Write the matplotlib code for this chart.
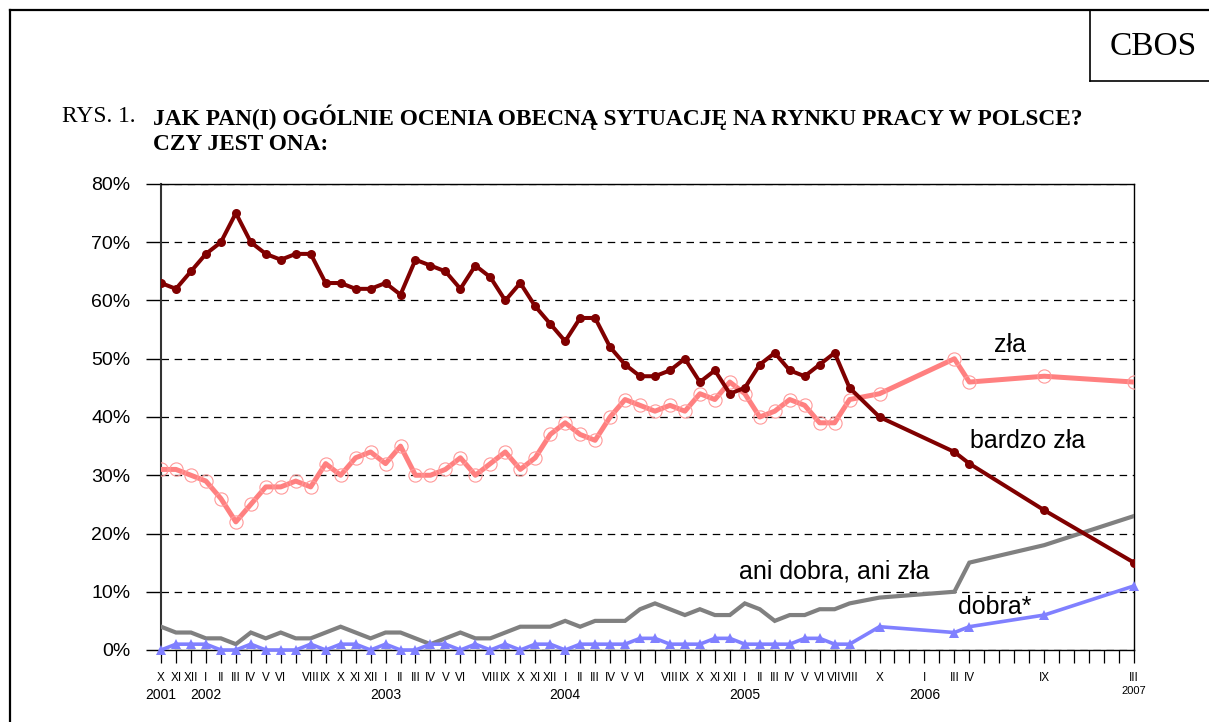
import numpy as np
import matplotlib
matplotlib.use('Agg')
import matplotlib.pyplot as plt
from matplotlib.lines import Line2D
from matplotlib.ticker import FuncFormatter
import matplotlib.transforms as mtrans

nan = np.nan

# ---- data ----
month_labels = ['X', 'XI', 'XII',
                'I', 'II', 'III', 'IV', 'V', 'VI', '', 'VIII', 'IX', 'X', 'XI', 'XII',
                'I', 'II', 'III', 'IV', 'V', 'VI', '', 'VIII', 'IX', 'X', 'XI', 'XII',
                'I', 'II', 'III', 'IV', 'V', 'VI', '', 'VIII', 'IX', 'X', 'XI', 'XII',
                'I', 'II', 'III', 'IV', 'V', 'VI', 'VII', 'VIII', '', 'X', '', '',
                'I', '', 'III', 'IV', '', '', '', '', 'IX', '', '', '',
                '', '', 'III']
year_labels = ['2001', '2002', '2003', '2004', '2005', '2006']
year_index = [0, 3, 15, 27, 39, 51]
last_year_label = '2007'

bardzo_zla = [63, 62, 65, 68, 70, 75, 70, 68, 67, 68, 68, 63, 63, 62, 62, 63, 61, 67, 66, 65, 62, 66, 64,
              60, 63, 59, 56, 53, 57, 57, 52, 49, 47, 47, 48, 50, 46, 48, 44, 45, 49, 51, 48, 47, 49, 51, 45,
              nan, 40, nan, nan, nan, nan, 34, 32, nan, nan, nan, nan, 24, nan, nan, nan, nan, nan, 15]
zla = [31, 31, 30, 29, 26, 22, 25, 28, 28, 29, 28, 32, 30, 33, 34, 32, 35, 30, 30, 31, 33, 30, 32,
       34, 31, 33, 37, 39, 37, 36, 40, 43, 42, 41, 42, 41, 44, 43, 46, 44, 40, 41, 43, 42, 39, 39, 43,
       nan, 44, nan, nan, nan, nan, 50, 46, nan, nan, nan, nan, 47, nan, nan, nan, nan, nan, 46]
ani = [4, 3, 3, 2, 2, 1, 3, 2, 3, 2, 2, 3, 4, 3, 2, 3, 3, 2, 1, 2, 3, 2, 2, 3, 4, 4,
       4, 5, 4, 5, 5, 5, 7, 8, 7, 6, 7, 6, 6, 8, 7, 5, 6, 6, 7, 7, 8,
       nan, 9, nan, nan, nan, nan, 10, 15, nan, nan, nan, nan, 18, nan, nan, nan, nan, nan, 23]
dobra = [0, 1, 1, 1, 0, 0, 1, 0, 0, 0, 1, 0, 1, 1, 0, 1, 0, 0, 1, 1, 0, 1, 0, 1, 0, 1,
         1, 0, 1, 1, 1, 1, 2, 2, 1, 1, 1, 2, 2, 1, 1, 1, 1, 2, 2, 1, 1,
         nan, 4, nan, nan, nan, nan, 3, 4, nan, nan, nan, nan, 6, nan, nan, nan, nan, nan, 11]

series_names = ['zła', 'bardzo zła', 'ani dobra, ani zła', 'dobra*']

W, H = 1209, 722
fig = plt.figure(figsize=(W / 100, H / 100), dpi=100)
fig.patch.set_facecolor('white')

ax_left, ax_right, ax_top, ax_bottom = 161, 1134, 184, 650
ax = fig.add_axes([ax_left / W, 1 - ax_bottom / H, (ax_right - ax_left) / W, (ax_bottom - ax_top) / H])

x = np.arange(len(month_labels))


def plot_series(vals, **kw):
    v = np.array(vals, dtype=float)
    m = ~np.isnan(v)
    ax.plot(x[m], v[m], **kw)


plot_series(ani, color='#808080', lw=3.0, solid_joinstyle='miter', zorder=3)
plot_series(dobra, color='#8080FF', lw=2.6, marker='^', markersize=7.5,
            markeredgewidth=0, zorder=4, clip_on=False)
plot_series(zla, color='#FF8080', lw=3.6, marker='o', markersize=9.5,
            markerfacecolor='none', markeredgecolor='#FF9999', markeredgewidth=0.8, zorder=5)
plot_series(bardzo_zla, color='#800000', lw=2.9, marker='o', markersize=6.5,
            markeredgewidth=0, zorder=6)

ax.set_xlim(0, len(month_labels) - 1)
ax.set_ylim(0, 80)
ax.set_yticks(range(0, 81, 10))
ax.yaxis.set_major_formatter(FuncFormatter(lambda v, p: f'{int(v)}%'))
ax.set_xticks(x)
ax.set_xticklabels(month_labels, fontsize=8.5, family='Liberation Sans')
for lab in ax.get_yticklabels():
    lab.set_family('Liberation Sans')
ax.tick_params(axis='y', direction='out', length=11, width=1.0, pad=11, labelsize=14)
ax.tick_params(axis='x', direction='out', length=9.5, width=0.9, pad=6)
ax.yaxis.grid(True, color='black', lw=0.9, linestyle=(0, (6, 4.5)))
ax.set_axisbelow(True)
for s in ax.spines.values():
    s.set_color('black')
    s.set_linewidth(1.0)
ax.spines['left'].set_linewidth(1.5)
ax.spines['left'].set_color('#333333')

# year labels
tr = mtrans.blended_transform_factory(ax.transData, ax.transAxes)
for yl, yi in zip(year_labels, year_index):
    ax.text(yi, (ax_bottom - 695) / (ax_bottom - ax_top), yl, transform=tr, ha='center', va='center',
            fontsize=10, family='Liberation Sans')
ax.text(len(month_labels) - 1, (ax_bottom - 691) / (ax_bottom - ax_top), last_year_label, transform=tr,
        ha='center', va='center', fontsize=8, family='Liberation Sans')

# series labels
ax.text(56.7, 52.4, series_names[0], fontsize=18, ha='center', va='center', family='Liberation Sans')
ax.text(57.9, 35.9, series_names[1], fontsize=18, ha='center', va='center', family='Liberation Sans')
ax.text(45.0, 13.4, series_names[2], fontsize=18, ha='center', va='center', family='Liberation Sans')
ax.text(55.7, 7.4, series_names[3], fontsize=18, ha='center', va='center', family='Liberation Sans')

# frame
lw_frame = 1.6
fig.add_artist(Line2D([10 / W, 1], [1 - 10 / H, 1 - 10 / H], transform=fig.transFigure, color='black', lw=lw_frame))
fig.add_artist(Line2D([10 / W, 10 / W], [1 - 10 / H, 0], transform=fig.transFigure, color='black', lw=lw_frame))
fig.add_artist(Line2D([1090 / W, 1090 / W], [1 - 10 / H, 1 - 81 / H], transform=fig.transFigure, color='black', lw=1.2))
fig.add_artist(Line2D([1090 / W, 1], [1 - 81 / H, 1 - 81 / H], transform=fig.transFigure, color='black', lw=1.2))
fig.text(1153 / W, 1 - 47 / H, 'CBOS', ha='center', va='center', fontsize=24, family='Liberation Serif')

# title
t1 = fig.text(62 / W, 1 - 117 / H, 'RYS. 1.', ha='left', va='center', fontsize=14, family='Liberation Serif')
t2 = fig.text(153 / W, 1 - 117 / H, 'JAK PAN(I) OGÓLNIE OCENIA OBECNĄ SYTUACJĘ NA RYNKU PRACY W POLSCE?',
              ha='left', va='center', fontsize=14, family='Liberation Serif', fontweight='bold')
t3 = fig.text(153 / W, 1 - 145 / H, 'CZY JEST ONA:', ha='left', va='center', fontsize=14,
              family='Liberation Serif', fontweight='bold')
fig.canvas.draw()
r = fig.canvas.get_renderer()
w2 = t2.get_window_extent(r).width
fs = 14 * (1085 - 153) / w2
for t in (t1, t2, t3):
    t.set_fontsize(fs)

fig.savefig('out.png', dpi=100, facecolor='white')
